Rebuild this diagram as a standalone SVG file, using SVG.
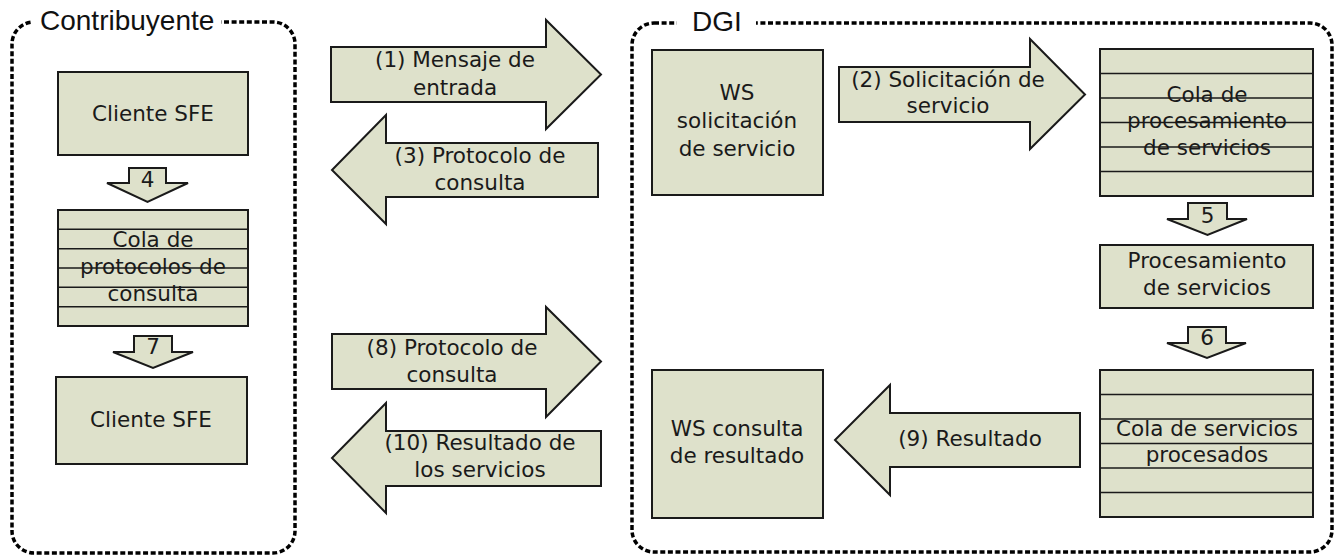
<svg xmlns="http://www.w3.org/2000/svg" width="1342" height="557" viewBox="0 0 1342 557">
<style>
.bg{fill:#ffffff}
.zone{fill:none;stroke:#000;stroke-width:3.5;stroke-dasharray:5 2.6}
.zl{font-family:"Liberation Sans",Arial,sans-serif;font-size:28px;fill:#111}
.box{fill:#dee1cb;stroke:#1a1a1a;stroke-width:2}
.ql{stroke:#1a1a1a;stroke-width:1.6}
.arr{fill:#dee1cb;stroke:#1a1a1a;stroke-width:2;stroke-linejoin:miter}
.t{font-family:"DejaVu Sans",Verdana,sans-serif;font-size:21.5px;fill:#1a1a1a;text-anchor:middle}
</style>
<rect class="bg" x="0" y="0" width="1342" height="557"/>

<g id="zone-contribuyente">
<rect class="zone" x="12" y="22" width="283" height="531" rx="22" ry="22"/>
<rect class="bg" x="33" y="6" width="188" height="32"/>
<text class="zl" x="40" y="30">Contribuyente</text>
</g>

<g id="zone-dgi">
<rect class="zone" x="632" y="23" width="700" height="529" rx="22" ry="22"/>
<rect class="bg" x="677" y="6" width="79" height="32"/>
<text class="zl" x="692" y="31">DGI</text>
</g>

<g id="cliente-sfe-1">
<rect class="box" x="58" y="72" width="190" height="83"/>
<text class="t" x="153" y="121">Cliente SFE</text>
</g>

<g id="cola-protocolos">
<rect class="box" x="58" y="210" width="190" height="116"/>
<line class="ql" x1="58" y1="229.3" x2="248" y2="229.3"/>
<line class="ql" x1="58" y1="248.7" x2="248" y2="248.7"/>
<line class="ql" x1="58" y1="268" x2="248" y2="268"/>
<line class="ql" x1="58" y1="287.3" x2="248" y2="287.3"/>
<line class="ql" x1="58" y1="306.7" x2="248" y2="306.7"/>
<text class="t" x="153" y="247">Cola de</text>
<text class="t" x="153" y="274">protocolos de</text>
<text class="t" x="153" y="301">consulta</text>
</g>

<g id="cliente-sfe-2">
<rect class="box" x="56" y="377" width="191" height="87"/>
<text class="t" x="151" y="427">Cliente SFE</text>
</g>

<g id="ws-solicitacion">
<rect class="box" x="652" y="50" width="171" height="145"/>
<text class="t" x="737" y="100">WS</text>
<text class="t" x="737" y="128">solicitación</text>
<text class="t" x="737" y="156">de servicio</text>
</g>

<g id="cola-procesamiento">
<rect class="box" x="1100" y="49" width="213" height="147"/>
<line class="ql" x1="1100" y1="73.5" x2="1313" y2="73.5"/>
<line class="ql" x1="1100" y1="98" x2="1313" y2="98"/>
<line class="ql" x1="1100" y1="122.5" x2="1313" y2="122.5"/>
<line class="ql" x1="1100" y1="147" x2="1313" y2="147"/>
<line class="ql" x1="1100" y1="171.5" x2="1313" y2="171.5"/>
<text class="t" x="1207" y="102">Cola de</text>
<text class="t" x="1207" y="128">procesamiento</text>
<text class="t" x="1207" y="155">de servicios</text>
</g>

<g id="procesamiento">
<rect class="box" x="1100" y="245" width="213" height="63"/>
<text class="t" x="1207" y="268">Procesamiento</text>
<text class="t" x="1207" y="295">de servicios</text>
</g>

<g id="cola-procesados">
<rect class="box" x="1100" y="370" width="213" height="147"/>
<line class="ql" x1="1100" y1="394.5" x2="1313" y2="394.5"/>
<line class="ql" x1="1100" y1="419" x2="1313" y2="419"/>
<line class="ql" x1="1100" y1="443.5" x2="1313" y2="443.5"/>
<line class="ql" x1="1100" y1="468" x2="1313" y2="468"/>
<line class="ql" x1="1100" y1="492.5" x2="1313" y2="492.5"/>
<text class="t" x="1207" y="436">Cola de servicios</text>
<text class="t" x="1207" y="462">procesados</text>
</g>

<g id="ws-consulta">
<rect class="box" x="652" y="370" width="171" height="148"/>
<text class="t" x="737" y="436">WS consulta</text>
<text class="t" x="737" y="463">de resultado</text>
</g>

<g id="connectors">
<g id="a1">
<polygon class="arr" points="331,47 546,47 546,20 601,74.5 546,129 546,102 331,102"/>
<text class="t" x="455" y="67">(1) Mensaje de</text>
<text class="t" x="455" y="95">entrada</text>
</g>
<g id="a2">
<polygon class="arr" points="839,67 1030,67 1030,39 1085,94.5 1030,149 1030,122 839,122"/>
<text class="t" x="948" y="87">(2) Solicitación de</text>
<text class="t" x="948" y="113">servicio</text>
</g>
<g id="a3">
<polygon class="arr" points="598,143 386,143 386,115 332,170 386,224 386,197 598,197"/>
<text class="t" x="480" y="163">(3) Protocolo de</text>
<text class="t" x="480" y="190">consulta</text>
</g>
<g id="a4">
<polygon class="arr" points="129,168 166,168 166,183 188,183 147.5,202 107,183 129,183"/>
<text class="t" x="147.5" y="187">4</text>
</g>
<g id="a5">
<polygon class="arr" points="1188,203 1227,203 1227,219 1247,219 1207.5,235 1167,219 1188,219"/>
<text class="t" x="1207.5" y="223">5</text>
</g>
<g id="a6">
<polygon class="arr" points="1188,327 1226,327 1226,343 1246,343 1207,358 1167,343 1188,343"/>
<text class="t" x="1207" y="345">6</text>
</g>
<g id="a7">
<polygon class="arr" points="134,336 172,336 172,352 193,352 153,368 113,352 134,352"/>
<text class="t" x="153" y="354">7</text>
</g>
<g id="a8">
<polygon class="arr" points="332,334 546,334 546,307 601,361.5 546,417 546,389 332,389"/>
<text class="t" x="452" y="355">(8) Protocolo de</text>
<text class="t" x="452" y="382">consulta</text>
</g>
<g id="a9">
<polygon class="arr" points="1080,413 890,413 890,385 835,440 890,495 890,467 1080,467"/>
<text class="t" x="970" y="446">(9) Resultado</text>
</g>
<g id="a10">
<polygon class="arr" points="601,431 386,431 386,403 332,458 386,513 386,486 601,486"/>
<text class="t" x="480" y="450">(10) Resultado de</text>
<text class="t" x="480" y="477">los servicios</text>
</g>
</g>
</svg>
